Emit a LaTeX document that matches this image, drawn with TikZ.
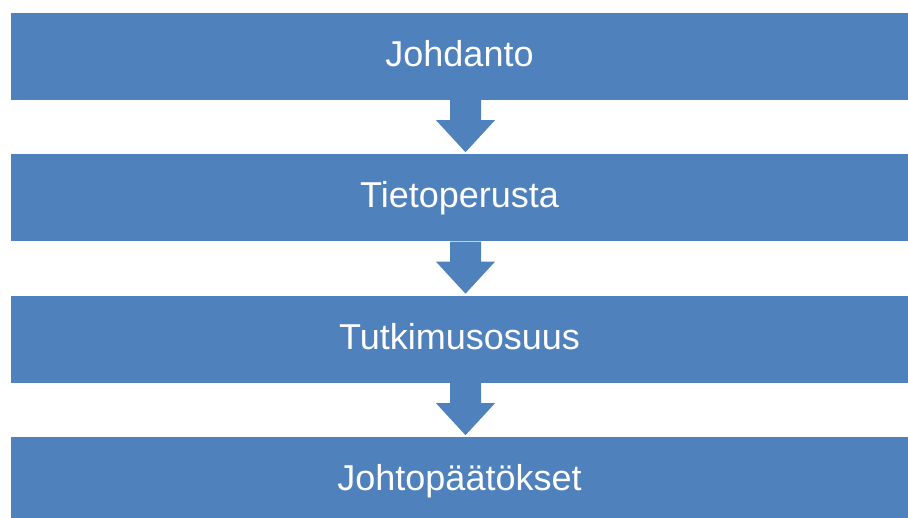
\documentclass[tikz,border=0pt]{standalone}
\usepackage{fontspec}
\setmainfont{Liberation Sans}
\definecolor{stageblue}{HTML}{4F81BD}
\begin{document}
\begin{tikzpicture}[x=1pt,y=1pt]
    \clip (0,0) rectangle (908,-518);
    \begin{scope}[every node/.style={fill=stageblue,text=white,inner sep=0pt,
        minimum width=897pt,minimum height=87pt,text height=26pt,text depth=6pt,
        font=\fontsize{36}{40}\selectfont}]
    \node (J) at (459.5,-56.5)  {Johdanto};
    \node (T) at (459.5,-198)   {Tietoperusta};
    \node (U) at (459.5,-339.5) {Tutkimusosuus};
    \node (P) at (459.5,-480.5) {Johtopäätökset};
    \end{scope}
    \foreach \a in {J,T,U}
        \fill[stageblue] ([xshift=-9.5pt]\a.south) -- ++(0,-20) -- ++(-14,0)
            -- ++(29.5,-32) -- ++(29.5,32) -- ++(-14,0) -- ++(0,20) -- cycle;
\end{tikzpicture}
\end{document}
